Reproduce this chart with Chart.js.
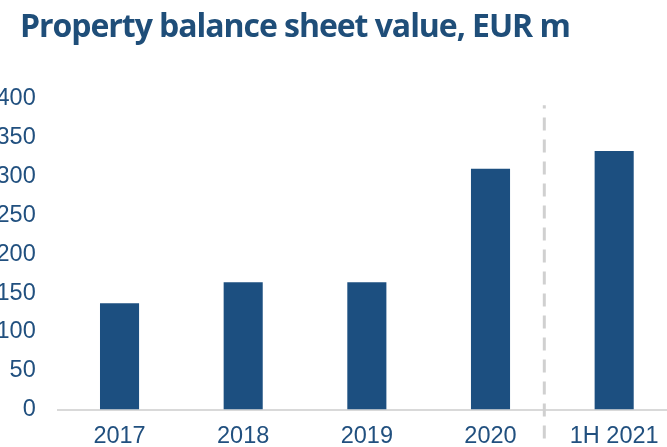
<!DOCTYPE html>
<html>
<head>
<meta charset="utf-8">
<script src="https://cdn.jsdelivr.net/npm/chart.js@4/dist/chart.umd.min.js"></script>
<style>
  html, body { margin: 0; padding: 0; background: #fff; overflow: hidden; width: 667px; height: 447px; }
  #title {
    position: absolute; left: 20px; top: 9px; z-index: 2;
    font-family: "Open Sans", sans-serif; font-weight: 700; font-size: 32px;
    line-height: 32px; letter-spacing: -1.05px; color: #1F4E79; white-space: nowrap;
  }
  #box { position: absolute; left: 0; top: 0; width: 690px; height: 460px; }
</style>
</head>
<body>
<div id="title">Property balance sheet value, EUR m</div>
<div id="box"><canvas id="chart"></canvas></div>
<script>
// --- données ---
const periods = ["2017", "2018", "2019", "2020", "1H 2021"];
const propertyValues = [137, 164, 164, 310, 333];
const yMin = 0;
const yMax = 400;
const yStep = 50;

// séparation entre les années pleines et le semestre
const DIVIDER_AT = 3.435;
const DIVIDER_TOP = 392;

const BLUE = "#1C4F80";
const TEXT = "#21507F";
const FONT = "'Liberation Sans', Arial, sans-serif";

// ligne pointillée verticale
const dividerPlugin = {
  id: "divider",
  afterDatasetsDraw(chart) {
    const ctx = chart.ctx;
    const x = chart.scales.x.getPixelForValue(DIVIDER_AT);
    const top = chart.scales.y.getPixelForValue(DIVIDER_TOP);
    ctx.save();
    ctx.strokeStyle = "#D0D0D0";
    ctx.lineWidth = 3;
    ctx.setLineDash([13, 9]);
    ctx.lineDashOffset = 9.7;
    ctx.beginPath();
    ctx.moveTo(x, top);
    ctx.lineTo(x, chart.height);
    ctx.stroke();
    ctx.restore();
  },
};

new Chart(document.getElementById("chart"), {
  type: "bar",
  data: {
    labels: periods,
    datasets: [
      {
        data: propertyValues,
        backgroundColor: BLUE,
        categoryPercentage: 1,
        barPercentage: 0.316,
      },
    ],
  },
  options: {
    responsive: true,
    maintainAspectRatio: false,
    animation: false,
    layout: { padding: { left: 0, right: 14, top: 99, bottom: 0 } },
    plugins: {
      legend: { display: false },
      title: { display: false },
      tooltip: { enabled: false },
    },
    scales: {
      x: {
        grid: { display: false, drawTicks: false },
        border: { display: true, color: "#D9D9D9", width: 2 },
        ticks: {
          color: TEXT,
          padding: 13,
          font: { family: FONT, size: 23.5 },
          maxRotation: 0,
        },
        afterFit(scale) { scale.height = 50.5; },
      },
      y: {
        min: yMin,
        max: yMax,
        grid: { display: false, drawTicks: false },
        border: { display: false },
        ticks: {
          stepSize: yStep,
          color: TEXT,
          padding: 22,
          font: { family: FONT, size: 23.5 },
        },
        afterFit(scale) { scale.width = 57.7; },
      },
    },
  },
  plugins: [dividerPlugin],
});
</script>
</body>
</html>
